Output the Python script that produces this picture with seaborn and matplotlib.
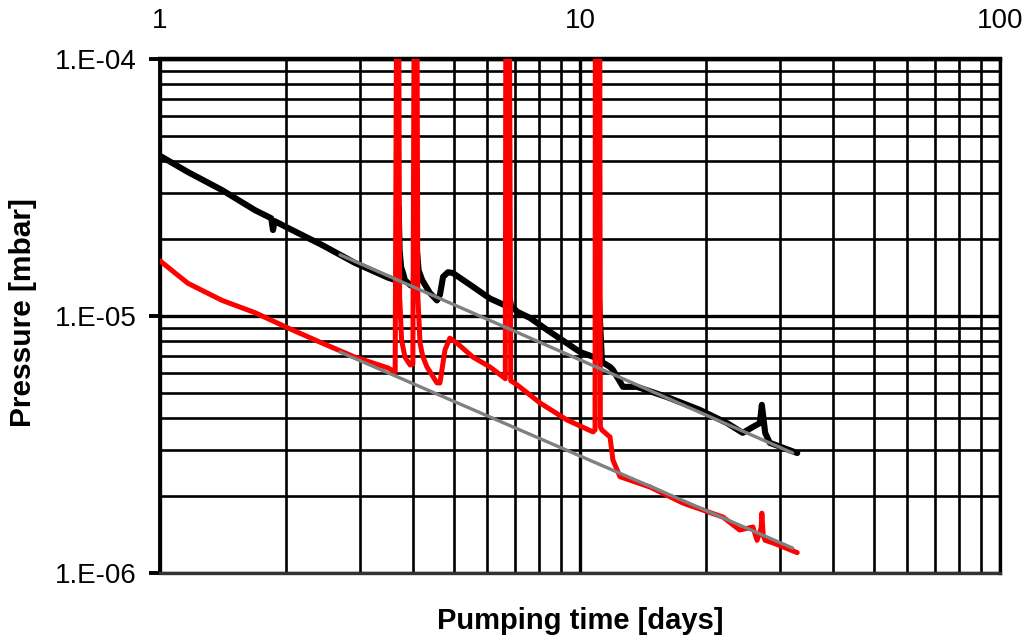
import numpy as np
import pandas as pd
import seaborn as sns
import matplotlib
matplotlib.use("Agg")
import matplotlib.pyplot as plt
from matplotlib.ticker import LogLocator, FixedLocator, FixedFormatter, NullFormatter

# ---- data ----
black_x = [1.0, 1.166, 1.405, 1.684, 1.84, 1.858, 1.875, 2.018, 2.43, 2.91, 3.49, 3.63,
           3.67, 3.70, 3.72, 3.75, 3.79, 3.83, 3.94, 4.02, 4.06, 4.09, 4.13, 4.21, 4.39,
           4.565, 4.64, 4.72, 4.85, 4.98, 5.56, 6.10, 6.63, 6.70, 6.74, 6.78, 6.85, 7.08,
           7.60, 8.35, 10.0, 10.8, 11.0, 11.1, 11.28, 11.79, 11.98, 12.25, 12.66, 13.67,
           16.1, 19.3, 22.4, 24.4, 25.8, 26.8, 27.1, 27.6, 28.3, 32.9]
black_y = [4.2e-5, 3.63e-5, 3.09e-5, 2.58e-5, 2.40e-5, 2.16e-5, 2.34e-5, 2.20e-5, 1.89e-5,
           1.61e-5, 1.41e-5, 1.38e-5, 1.40e-5, 2.65e-5, 1.8e-5, 1.55e-5, 1.47e-5, 1.38e-5,
           1.32e-5, 1.30e-5, 2.65e-5, 1.8e-5, 1.5e-5, 1.38e-5, 1.23e-5, 1.15e-5, 1.21e-5,
           1.42e-5, 1.48e-5, 1.47e-5, 1.30e-5, 1.17e-5, 1.10e-5, 1.09e-5, 1.70e-5, 1.2e-5,
           1.10e-5, 1.04e-5, 9.83e-6, 8.83e-6, 7.24e-6, 6.92e-6, 6.9e-6, 1.15e-5, 6.62e-6,
           6.34e-6, 6.17e-6, 5.80e-6, 5.30e-6, 5.30e-6, 4.84e-6, 4.31e-6, 3.83e-6, 3.51e-6,
           3.70e-6, 3.83e-6, 4.51e-6, 3.51e-6, 3.21e-6, 2.93e-6]

red_x = [1.0, 1.086, 1.166, 1.405, 1.684, 2.018, 2.43, 2.91, 3.49, 3.63, 3.66, 3.70, 3.72,
         3.76, 3.83, 3.94, 4.0, 4.03, 4.09, 4.11, 4.16, 4.22, 4.32, 4.565, 4.64, 4.77, 4.90,
         5.09, 5.56, 6.10, 6.6, 6.64, 6.66, 6.79, 6.84, 7.08, 8.03, 9.31, 10.74, 10.86,
         10.88, 11.14, 11.18, 11.28, 11.79, 11.98, 12.45, 14.68, 17.6, 21.9, 24.0, 25.8,
         26.4, 27.0, 27.1, 27.3, 27.6, 28.8, 32.9]
red_y = [1.64e-5, 1.47e-5, 1.34e-5, 1.15e-5, 1.03e-5, 8.98e-6, 7.85e-6, 6.92e-6, 6.28e-6,
         6.05e-6, 2e-4, 2e-4, 1.2e-5, 8.07e-6, 6.92e-6, 6.45e-6, 6.5e-6, 2e-4, 2e-4, 1.2e-5,
         7.85e-6, 7.0e-6, 6.34e-6, 5.49e-6, 5.49e-6, 7.38e-6, 8.2e-6, 7.85e-6, 6.92e-6,
         6.34e-6, 5.75e-6, 5.7e-6, 2e-4, 2e-4, 5.6e-6, 5.4e-6, 4.59e-6, 3.94e-6, 3.54e-6,
         3.6e-6, 2e-4, 2e-4, 3.7e-6, 3.60e-6, 3.38e-6, 2.75e-6, 2.37e-6, 2.16e-6, 1.87e-6,
         1.65e-6, 1.47e-6, 1.51e-6, 1.34e-6, 1.5e-6, 1.71e-6, 1.4e-6, 1.34e-6, 1.31e-6,
         1.20e-6]

fit_black_x = [2.683, 32.1]
fit_black_y = [1.73e-5, 2.93e-6]
fit_red_x = [2.683, 32.1]
fit_red_y = [7.24e-6, 1.25e-6]

x_ticks = [1, 10, 100]
x_tick_labels = ["1", "10", "100"]
y_ticks = [1e-6, 1e-5, 1e-4]
y_tick_labels = ["1.E-06", "1.E-05", "1.E-04"]

# ---- style ----
sns.set_theme(style="white")
plt.rcParams["font.family"] = ["Liberation Sans", "DejaVu Sans"]

fig = plt.figure(figsize=(10.28, 6.40), dpi=100)
ax = fig.add_axes([160 / 1028, 1 - 573 / 640, 840 / 1028, 514 / 640])

df_black = pd.DataFrame({"x": black_x, "y": black_y})
df_red = pd.DataFrame({"x": red_x, "y": red_y})
df_fb = pd.DataFrame({"x": fit_black_x, "y": fit_black_y})
df_fr = pd.DataFrame({"x": fit_red_x, "y": fit_red_y})

sns.lineplot(data=df_black, x="x", y="y", sort=False, estimator=None, color="black",
             lw=4.4, ax=ax, zorder=3)
sns.lineplot(data=df_red, x="x", y="y", sort=False, estimator=None, color="#ff0000",
             lw=3.6, ax=ax, zorder=4)
sns.lineplot(data=df_fb, x="x", y="y", sort=False, estimator=None, color="#808080",
             lw=2.4, ax=ax, zorder=5)
sns.lineplot(data=df_fr, x="x", y="y", sort=False, estimator=None, color="#808080",
             lw=2.4, ax=ax, zorder=5)

ax.set_xscale("log")
ax.set_yscale("log")
ax.set_xlim(1, 100)
ax.set_ylim(1e-6, 1e-4)

ax.xaxis.set_major_locator(FixedLocator(x_ticks))
ax.xaxis.set_major_formatter(FixedFormatter(x_tick_labels))
ax.xaxis.set_minor_locator(LogLocator(base=10, subs=np.arange(2, 10)))
ax.xaxis.set_minor_formatter(NullFormatter())
ax.yaxis.set_major_locator(FixedLocator(y_ticks))
ax.yaxis.set_major_formatter(FixedFormatter(y_tick_labels))
ax.yaxis.set_minor_locator(LogLocator(base=10, subs=np.arange(2, 10)))
ax.yaxis.set_minor_formatter(NullFormatter())

ax.grid(which="major", color="black", lw=2.4)
ax.grid(which="minor", color="black", lw=1.9)
ax.set_axisbelow(True)

ax.xaxis.tick_top()
ax.tick_params(axis="x", which="both", length=0, pad=18, labelsize=20, colors="black")
ax.tick_params(axis="y", which="major", direction="out", length=8, width=2.8,
               pad=9, labelsize=20, colors="black", left=True)
ax.tick_params(axis="y", which="minor", length=0)

for side, lw, col in [("left", 2.8, "black"), ("top", 3.2, "black"),
                      ("right", 2.4, "black"), ("bottom", 2.4, "#333333")]:
    ax.spines[side].set_visible(True)
    ax.spines[side].set_linewidth(lw)
    ax.spines[side].set_color(col)

ax.set_xlabel("Pumping time [days]", fontsize=21, fontweight="bold", color="black")
ax.xaxis.set_label_position("bottom")
ax.xaxis.set_label_coords(0.5, -0.066)
ax.set_ylabel("Pressure [mbar]", fontsize=21.5, fontweight="bold", color="black")
ax.yaxis.set_label_coords(-0.146, 0.506)

fig.savefig("out.png", dpi=100)
